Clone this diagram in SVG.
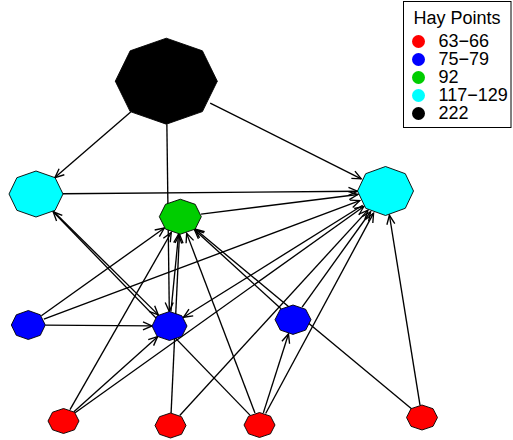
<svg xmlns="http://www.w3.org/2000/svg" width="513" height="440" viewBox="0 0 513 440">
  <style>
    .edge { stroke: #000; stroke-width: 1.35; fill: none; }
    .arr { marker-end: url(#ah); }
    .node { stroke: #000; stroke-width: 0.9; }
    .red { fill: #FF0000; }
    .blue { fill: #0000FF; }
    .green { fill: #00CD00; }
    .cyan { fill: #00FFFF; }
    .black { fill: #000000; }
    .lbl { font-family: "Liberation Sans", Arial, sans-serif; font-size: 18px; fill: #000; }
  </style>
  <defs>
    <marker id="ah" markerUnits="userSpaceOnUse" markerWidth="14" markerHeight="14" viewBox="-11 -7 14 14" refX="0" refY="0" orient="auto">
      <path d="M-9,-4 L0,0 L-9,4" fill="none" stroke="#000" stroke-width="1.35"/>
    </marker>
  </defs>
  <rect width="513" height="440" fill="#fff"/>

  <!-- directed ties, trimmed at vertex outlines -->
  <g id="edges">
    <line class="edge arr" x1="130.7" y1="112.0" x2="54.9" y2="177.6"/>
    <line class="edge arr" x1="166.86" y1="124.2" x2="169.31" y2="311.5"/>
    <line class="edge arr" x1="210.2" y1="103.1" x2="361.2" y2="178.8"/>
    <line class="edge arr" x1="63.0" y1="193.77" x2="357.5" y2="191.24"/>
    <line class="edge arr" x1="201.07" y1="214.1" x2="357.78" y2="194.47"/>
    <line class="edge arr" x1="53.62" y1="211.42" x2="158.26" y2="314.89"/>
    <line class="edge arr" x1="41.35" y1="315.7" x2="164.34" y2="228.07"/>
    <line class="edge arr" x1="43.86" y1="319.16" x2="359.76" y2="200.65"/>
    <line class="edge arr" x1="45.3" y1="325.12" x2="152.0" y2="325.88"/>
    <line class="edge arr" x1="170.93" y1="311.55" x2="178.58" y2="234.14"/>
    <line class="edge arr" x1="362.71" y1="205.24" x2="183.47" y2="317.27"/>
    <line class="edge arr" x1="281.01" y1="308.74" x2="194.45" y2="229.63"/>
    <line class="edge arr" x1="302.11" y1="307.02" x2="370.59" y2="211.74"/>
    <line class="edge arr" x1="69.99" y1="409.65" x2="171.27" y2="232.5"/>
    <line class="edge arr" x1="73.87" y1="411.71" x2="157.62" y2="336.65"/>
    <line class="edge arr" x1="75.1" y1="412.71" x2="363.81" y2="206.49"/>
    <line class="edge arr" x1="171.09" y1="413.01" x2="179.48" y2="234.19"/>
    <line class="edge arr" x1="179.72" y1="415.45" x2="367.98" y2="210.11"/>
    <line class="edge arr" x1="249.97" y1="415.15" x2="53.17" y2="211.75"/>
    <line class="edge arr" x1="254.96" y1="413.05" x2="186.64" y2="233.38"/>
    <line class="edge arr" x1="263.35" y1="412.89" x2="288.47" y2="333.93"/>
    <line class="edge arr" x1="265.67" y1="413.53" x2="373.57" y2="213.16"/>
    <line class="edge arr" x1="411.2" y1="408.53" x2="195.17" y2="229.06"/>
    <line class="edge arr" x1="420.0" y1="405.1" x2="389.41" y2="215.26"/>
  </g>

  <!-- vertices: octagons coloured by Hay points -->
  <g id="n222">
    <polygon class="node black" points="166.3,38.2 202.4,50.8 217.3,81.2 202.4,111.6 166.3,124.2 130.2,111.6 115.3,81.2 130.2,50.8"/>
  </g>
  <g id="n117a">
    <polygon class="node cyan" points="36,171 55.1,177.7 63,194 55.1,210.3 36,217 16.9,210.3 9,194 16.9,177.7"/>
  </g>
  <g id="n129">
    <polygon class="node cyan" points="385.5,166.5 405.3,173.7 413.5,191 405.3,208.3 385.5,215.5 365.7,208.3 357.5,191 365.7,173.7"/>
  </g>
  <g id="n92">
    <polygon class="node green" points="180.3,199.2 195.2,204.3 201.3,216.7 195.2,229.1 180.3,234.2 165.5,229.1 159.3,216.7 165.5,204.3"/>
  </g>
  <g id="n75a">
    <polygon class="node blue" points="28.3,310.5 40.3,314.8 45.3,325 40.3,335.3 28.3,339.5 16.3,335.3 11.3,325 16.3,314.8"/>
  </g>
  <g id="n75b">
    <polygon class="node blue" points="169.5,311.5 181.9,315.8 187,326 181.9,336.3 169.5,340.5 157.1,336.3 152,326 157.1,315.8"/>
  </g>
  <g id="n79">
    <polygon class="node blue" points="293,305 305.7,309.3 311,319.7 305.7,330.1 293,334.4 280.3,330.1 275,319.7 280.3,309.3"/>
  </g>
  <g id="n63a">
    <polygon class="node red" points="63.5,408.5 74.5,412.2 79,421 74.5,429.8 63.5,433.5 52.5,429.8 48,421 52.5,412.2"/>
  </g>
  <g id="n63b">
    <polygon class="node red" points="170.5,413 181.5,416.7 186,425.5 181.5,434.3 170.5,438 159.5,434.3 155,425.5 159.5,416.7"/>
  </g>
  <g id="n66a">
    <polygon class="node red" points="259.5,412.5 270.5,416.2 275,425 270.5,433.8 259.5,437.5 248.5,433.8 244,425 248.5,416.2"/>
  </g>
  <g id="n66b">
    <polygon class="node red" points="422,405 433,408.7 437.5,417.5 433,426.3 422,430 411,426.3 406.5,417.5 411,408.7"/>
  </g>

  <!-- legend -->
  <g id="legend">
    <rect x="403.5" y="1.5" width="107.5" height="126" fill="#fff" stroke="#000" stroke-width="1"/>
    <text class="lbl" x="413.5" y="23.5">Hay Points</text>
    <circle cx="418.5" cy="41.5" r="6.5" class="red"/>
    <circle cx="418.5" cy="59.5" r="6.5" class="blue"/>
    <circle cx="418.5" cy="77.5" r="6.5" class="green"/>
    <circle cx="418.5" cy="95.5" r="6.5" class="cyan"/>
    <circle cx="418.5" cy="113.5" r="6.5" class="black"/>
    <text class="lbl" x="438.5" y="47">63−66</text>
    <text class="lbl" x="438.5" y="65">75−79</text>
    <text class="lbl" x="438.5" y="83">92</text>
    <text class="lbl" x="438.5" y="101">117−129</text>
    <text class="lbl" x="438.5" y="119">222</text>
  </g>
</svg>
